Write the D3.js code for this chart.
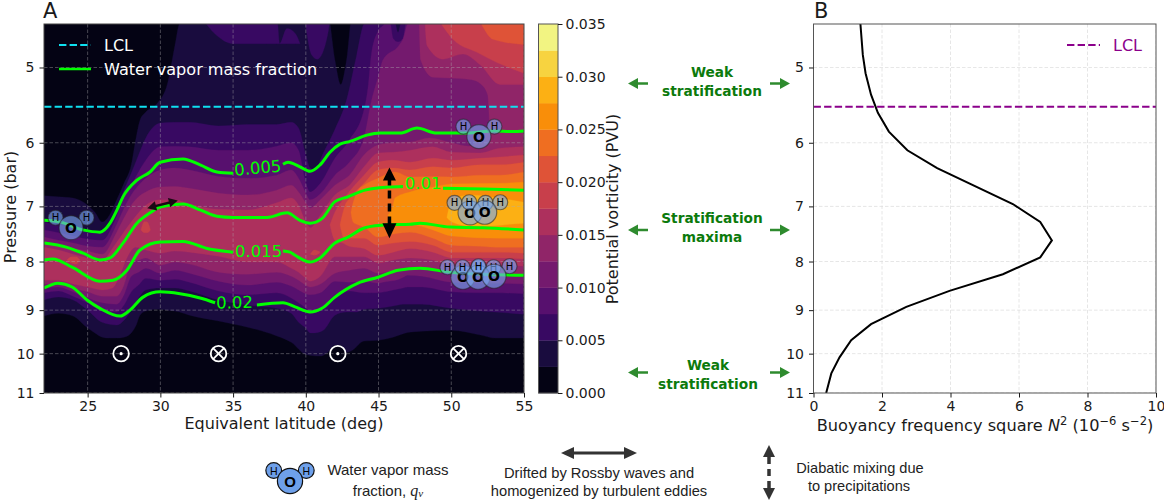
<!DOCTYPE html>
<html><head><meta charset="utf-8">
<script src="https://cdn.jsdelivr.net/npm/d3@7"></script>
<style>html,body{margin:0;padding:0;background:#fff}svg{display:block}text{font-family:"DejaVu Sans",sans-serif}</style>
</head><body><svg id="c" width="1164" height="503"></svg>
<script>
// ---- PV band boundaries: pressure (bar) of each contour level against latitude ----
const L1_lat=[22,23,24,25,25.5,26,26.5,27,27.5,28,28.3,28.6,29,29.8,30.5,31,31.3,32,34,36,38,39,40,41,41.5,42,42.4,42.8,43.2,44,45,46,47,48,50,52,53,55];
const L1_top=[6.82,6.84,6.86,6.98,7.10,7.27,7.15,6.89,6.62,6.33,5.96,5.68,5.57,5.45,5.19,4.74,4.50,4.4,4.4,4.4,4.4,4.4,4.4,4.4,4.4,4.91,5.21,4.91,4.4,4.4,4.4,4.4,4.4,4.4,4.4,4.4,4.4,4.4];
const L1_bot=[9.13,9.07,9.13,9.40,9.51,9.61,9.63,9.63,9.61,9.51,9.36,9.11,9.02,8.98,9.00,9.02,9.04,9.11,9.24,9.38,9.58,9.73,10.02,10.06,9.97,9.80,9.80,9.97,9.92,9.70,9.68,9.61,9.50,9.47,9.45,9.56,9.63,9.63];
const L2_lat=[22,23,24,25,26,27,27.5,28,28.5,29,30,31,32,34,36,38,39,39.5,40,40.3,40.6,41.2,42,42.8,43.5,44,45,46,46.34,46.68,48,50,52,53,55];
const L2_top=[7.27,7.32,7.37,7.43,7.45,7.03,6.73,6.46,6.18,5.93,5.72,5.71,5.71,5.76,5.74,5.74,5.71,5.79,6.18,6.38,6.41,6.15,5.81,5.41,4.85,4.50,4.4,4.4,4.59,4.4,4.4,4.4,4.4,4.4,4.4];
const L2_bot=[8.78,8.72,8.78,9.00,9.27,9.33,9.22,9.00,8.74,8.57,8.53,8.53,8.59,8.78,8.89,8.96,9.07,9.27,9.40,9.51,9.51,9.45,9.11,9.04,9.04,8.98,8.96,8.91,8.89,8.87,8.87,8.96,9.02,9.04,9.09];
const L2a_lat=[32.9,33.9,35,37.3,38,38.2,38.7,39.3,39.6];
const L2a_top=[4.4,4.4,4.4,4.4,4.4,4.72,4.55,4.61,4.72];
const L2a_bot=[4.45,4.63,4.72,4.72,4.72,4.72,4.72,4.72,4.72];
const L2b_lat=[39.9,40.4,40.8,41.5,41.7];
const L2b_top=[4.4,4.4,4.4,4.4,4.4];
const L2b_bot=[4.4,4.85,4.90,4.62,4.4];
const L3_lat=[22,23,24,25,26,27,27.5,28,28.5,29,30,31,32,34,36,38,39,39.5,40,40.3,41,42,43,44,44.3,44.5,45,45.4,45.7,46,46.34,46.68,47,48,50,52,53,55];
const L3_top=[7.41,7.46,7.52,7.58,7.60,7.17,6.86,6.65,6.44,6.26,6.06,6.05,6.06,6.11,6.11,6.05,6.00,6.11,6.62,6.76,6.62,6.23,5.96,5.54,5.21,4.85,4.57,4.50,4.4,4.66,4.70,4.66,4.4,4.4,4.4,4.4,4.4,4.4];
const L3_bot=[8.63,8.59,8.70,8.84,9.02,9.04,8.89,8.61,8.47,8.33,8.37,8.35,8.41,8.59,8.67,8.63,8.74,8.84,8.96,9.07,9.00,8.67,8.59,8.63,8.63,8.63,8.63,8.61,8.59,8.57,8.55,8.53,8.51,8.51,8.61,8.63,8.63,8.65];
const L4_lat=[22,23,24,25,26,27,27.5,28,28.5,29,30,31,32,34,36,38,39,39.5,40,40.3,41,42,43,44,44.5,45,45.3,46.4,46.7,47,48,50,52,53,55];
const L4_top=[7.54,7.60,7.65,7.71,7.73,7.31,7.03,6.81,6.65,6.54,6.41,6.38,6.41,6.51,6.54,6.49,6.41,6.54,6.78,6.89,6.79,6.49,6.29,5.93,5.43,5.10,4.91,4.74,4.66,4.50,4.4,4.4,4.4,4.4,4.4];
const L4_bot=[8.53,8.51,8.61,8.74,8.84,8.87,8.67,8.29,8.21,8.13,8.23,8.17,8.23,8.39,8.47,8.41,8.49,8.57,8.65,8.67,8.63,8.39,8.41,8.39,8.41,8.43,8.41,8.35,8.31,8.27,8.29,8.41,8.43,8.43,8.45];
const L5_lat=[22,23,24,25,26,27,27.5,28,28.5,29,30,31,32,34,36,38,39,39.5,40,40.3,41,42,43,44,45,46,47.2,48.5,50,51.2,52.4,53,55];
const L5_top=[7.62,7.69,7.75,7.80,7.86,7.45,7.20,6.98,6.84,6.76,6.68,6.67,6.70,6.78,6.81,6.73,6.65,6.76,6.94,7.03,6.89,6.65,6.49,6.18,6.03,6.00,5.99,5.93,6.00,6.05,5.82,5.68,5.68];
const L5_bot=[8.45,8.45,8.53,8.61,8.70,8.70,8.47,8.01,7.97,7.93,8.07,8.01,8.05,8.21,8.25,8.21,8.29,8.37,8.47,8.51,8.45,8.23,8.17,8.13,8.23,8.17,8.11,8.13,8.23,8.25,8.25,8.25,8.27];
const L5u_lat=[47.8,47.9,48.74,49.9,51.4,52,52.5,52.6,52.75,55];
const L5u_top=[4.4,4.4,4.4,4.4,4.4,4.4,4.4,4.4,4.4,4.4];
const L5u_bot=[4.51,4.91,5.12,5.13,5.15,5.20,5.34,5.61,6.89,6.89];
const L6_lat=[22,23,24,25,26,26.7,27.3,27.7,28.3,29,30,31,32,34,36,38,39,39.5,40,40.3,41,42,43,44,45,46,47.2,48.7,50,52,53.3,55];
const L6_top=[7.73,7.78,7.86,7.93,7.99,7.75,7.52,7.37,7.17,6.98,6.89,6.89,6.96,7.05,7.06,6.94,6.86,6.98,7.27,7.37,7.15,6.81,6.65,6.36,6.15,6.14,6.11,6.06,6.14,6.15,6.08,6.06];
const L6_bot=[8.37,8.37,8.45,8.51,8.57,8.53,8.21,7.93,7.73,7.78,7.84,7.80,7.82,7.90,8.01,8.01,8.13,8.21,8.33,8.39,8.29,7.91,7.91,7.91,8.03,7.97,7.93,7.97,8.07,8.07,8.07,8.09];
const L6u_lat=[48.2,48.33,49.43,50.8,52,53.35,55];
const L6u_top=[4.4,4.4,4.4,4.4,4.4,4.4,4.4];
const L6u_bot=[4.51,4.74,4.90,4.84,4.97,5.21,5.21];
const L7_lat=[41.66,42,42.55,42.97,44,44.96,46,47.16,48.74,50.05,52,53.35,55];
const L7_top=[7.32,7.10,6.89,6.76,6.49,6.29,6.26,6.29,6.23,6.26,6.23,6.21,6.18];
const L7_bot=[7.32,7.60,7.65,7.71,7.75,7.88,7.82,7.75,7.82,7.93,7.93,7.93,7.95];
const L7u_lat=[49.36,50.12,51.77,53.14,55];
const L7u_top=[4.4,4.4,4.4,4.4,4.4];
const L7u_bot=[4.51,4.67,4.82,4.94,5.07];
const L7s1_lat=[23.58,23.9,24.2,24.47];
const L7s1_top=[7.97,7.91,7.91,7.97];
const L7s1_bot=[7.97,8.03,8.05,7.97];
const L7s2_lat=[28.67,28.9,29.1,29.32];
const L7s2_top=[7.41,7.26,7.27,7.41];
const L7s2_bot=[7.41,7.46,7.46,7.41];
const L7s3_lat=[40.3,40.6,41];
const L7s3_top=[7.86,7.78,7.82];
const L7s3_bot=[7.86,7.88,7.82];
const L8_lat=[42.35,42.7,43.04,44,44.96,46,47.16,48.74,50.05,52,53.35,55];
const L8_top=[7.32,6.98,6.86,6.62,6.41,6.38,6.41,6.36,6.38,6.33,6.33,6.29];
const L8_bot=[7.32,7.60,7.56,7.56,7.69,7.65,7.62,7.69,7.82,7.82,7.82,7.84];
const L8u_lat=[52.1,52.87,55];
const L8u_top=[4.4,4.4,4.4];
const L8u_bot=[4.51,4.67,4.73];
const L9_lat=[43.1,43.25,43.59,44,44.96,46.13,47.16,48.74,50.05,52,53.35,55];
const L9_top=[7.10,6.94,6.73,6.65,6.54,6.44,6.52,6.51,6.52,6.49,6.49,6.44];
const L9_bot=[7.10,7.27,7.32,7.36,7.54,7.48,7.45,7.56,7.69,7.71,7.73,7.73];
const L10_lat=[45.65,46,46.13,47.16,48.74,50.05,53.35,55];
const L10_top=[7.15,6.98,6.86,6.76,6.68,6.63,6.62,6.60];
const L10_bot=[7.15,7.32,7.34,7.31,7.41,7.52,7.56,7.56];
const L11_lat=[49.7,50.05,51.3,52.66,54.03,55];
const L11_top=[7.19,6.89,6.81,6.84,6.89,6.93];
const L11_bot=[7.19,7.27,7.34,7.34,7.31,7.29];
// painter's order: [band index, lat, top, bottom]
const bandPatches=[[1,L1_lat,L1_top,L1_bot],[2,L2_lat,L2_top,L2_bot],[2,L2a_lat,L2a_top,L2a_bot],[2,L2b_lat,L2b_top,L2b_bot],
 [3,L3_lat,L3_top,L3_bot],[4,L4_lat,L4_top,L4_bot],[5,L5_lat,L5_top,L5_bot],[5,L5u_lat,L5u_top,L5u_bot],
 [6,L6_lat,L6_top,L6_bot],[6,L6u_lat,L6u_top,L6u_bot],[7,L7_lat,L7_top,L7_bot],[7,L7u_lat,L7u_top,L7u_bot],
 [7,L7s1_lat,L7s1_top,L7s1_bot],[7,L7s2_lat,L7s2_top,L7s2_bot],[7,L7s3_lat,L7s3_top,L7s3_bot],
 [8,L8_lat,L8_top,L8_bot],[8,L8u_lat,L8u_top,L8u_bot],[9,L9_lat,L9_top,L9_bot],[10,L10_lat,L10_top,L10_bot],[11,L11_lat,L11_top,L11_bot]];
const pvLevels=d3.range(0,15).map(i=>i*0.0025);
const pvTicks=[0,0.005,0.01,0.015,0.02,0.025,0.03,0.035];
// ---- water vapour contours (null = gap for inline label) ----
const q005_lat=[22,23.1,24.68,25.85,26.54,27.02,27.43,28.39,29.29,29.98,31.56,32.73,33.89,35,null,38.43,38.78,39.6,40.29,40.98,41.66,42.35,43.04,44.2,45.1,46.48,47.64,49,51.08,52.87,54.24,55];
const q005_p=[7.24,7.27,7.41,7.45,7.29,7.06,6.84,6.57,6.44,6.29,6.24,6.33,6.44,6.46,null,6.32,6.29,6.36,6.43,6.33,6.14,6.02,5.98,5.89,5.86,5.86,5.79,5.86,5.86,5.83,5.84,5.83];
const q010_lat=[22,23.58,24.68,25.85,26.54,27.43,28.39,29.29,29.98,31.56,32.73,33.89,35,37.33,38.71,39.6,40.29,41.11,42,42.9,44.07,45.65,46.68,null,49.43,52.18,55];
const q010_p=[7.65,7.73,7.84,7.97,7.93,7.65,7.29,7.11,7.01,6.96,7.06,7.17,7.19,7.19,7.11,7.24,7.29,7.21,6.92,6.84,6.73,6.68,6.67,null,6.70,6.71,6.73];
const q015_lat=[22,22.6,23.93,25.85,26.74,27.7,28.6,29.98,31.56,33.2,35,null,38.43,38.91,39.26,40.29,40.98,42,42.9,44.07,45.65,47.16,47.85,49.91,52.18,55];
const q015_p=[7.97,7.95,8.11,8.39,8.37,8.17,7.78,7.63,7.62,7.75,7.82,null,7.80,7.82,7.88,8.01,7.93,7.65,7.54,7.37,7.32,7.31,7.29,7.36,7.37,7.41];
const q020_lat=[22,22.96,23.93,24.96,25.85,27.23,27.91,28.81,29.98,31.35,32.73,33.76,null,36.64,38.43,39.26,40.29,41.11,42,43.59,44.96,46.34,47.85,49.91,52.18,55];
const q020_p=[8.53,8.43,8.51,8.78,8.96,9.13,9.00,8.72,8.61,8.65,8.74,8.84,null,8.89,8.84,8.93,9.04,8.96,8.72,8.43,8.31,8.17,8.13,8.21,8.25,8.27];
const qLabels=["0.005","0.01","0.015","0.02"];
const qLabelLat=[36.7,48.06,36.76,35.1];
const qLabelP=[6.38,6.62,7.80,8.84];
const qLabelAngle=[-5,0,0,-1];
// ---- molecules, wind symbols, LCL ----
const molLat=[23.86,51.9,51.29,52.3,50.8,51.84,52.94];
const molP=[7.37,5.91,7.11,7.10,8.31,8.31,8.29];
const windLat=[27.3,34,42.2,50.5];
const windKind=["out","in","out","in"];
const windP=10;
const lclP=5.5;
// ---- buoyancy profile ----
const n2Values=[1.37,1.44,1.52,1.68,1.88,2.2,2.74,3.61,5.82,6.62,6.96,6.62,5.53,3.97,2.71,1.68,1.10,0.76,0.52,0.37];
const n2Pressure=[4.5,4.85,5.07,5.34,5.58,5.84,6.11,6.38,6.96,7.27,7.60,7.92,8.25,8.59,8.93,9.31,9.68,10.09,10.49,11];
const pTicks=[5,6,7,8,9,10,11];
const latTicks=[25,30,35,40,45,50,55];
const n2Ticks=[0,2,4,6,8,10];

const svg=d3.select("#c");
const T=24,B=393,AL=44,AR=524,BL=813.5,BR=1156;
const y=d3.scaleLog().domain([4.5,11]).range([T,B]);
const xA=d3.scaleLinear().domain([22,55]).range([AL,AR]);
const xB=d3.scaleLinear().domain([0,10]).range([BL,BR]);
const pvColor=i=>d3.interpolateInferno((i+0.5)/14);
const INK="#1a1a1a";

svg.append("defs").append("clipPath").attr("id","clipA").append("rect").attr("x",AL).attr("y",T).attr("width",AR-AL).attr("height",B-T);
svg.select("defs").append("clipPath").attr("id","clipB").append("rect").attr("x",BL).attr("y",T).attr("width",BR-BL).attr("height",B-T);

// Panel A ---------------------------------------------------
const gA=svg.append("g").attr("clip-path","url(#clipA)");
gA.append("rect").attr("x",AL).attr("y",T).attr("width",AR-AL).attr("height",B-T).attr("fill",pvColor(0));
const area=d3.area().curve(d3.curveMonotoneX);
bandPatches.forEach(([lev,lat,top,bot])=>{
  area.x((d,i)=>xA(lat[i])).y0((d,i)=>y(top[i])).y1((d,i)=>y(bot[i]));
  gA.append("path").attr("d",area(lat)).attr("fill",pvColor(lev)).attr("stroke",pvColor(lev)).attr("stroke-width",0.3);
});
// grid
const gridA=gA.append("g").attr("stroke","#b0b0b0").attr("stroke-opacity",0.4).attr("stroke-dasharray","3.5,2").attr("stroke-width",1);
latTicks.forEach(t=>gridA.append("line").attr("x1",xA(t)).attr("x2",xA(t)).attr("y1",T).attr("y2",B));
pTicks.forEach(t=>gridA.append("line").attr("x1",AL).attr("x2",AR).attr("y1",y(t)).attr("y2",y(t)));
// LCL
gA.append("line").attr("x1",AL).attr("x2",AR).attr("y1",y(lclP)).attr("y2",y(lclP)).attr("stroke","#0fe0f0").attr("stroke-width",2).attr("stroke-dasharray","7.4,3.2");
// q contours
const qLine=d3.line().defined(d=>d[0]!==null).x(d=>xA(d[0])).y(d=>y(d[1])).curve(d3.curveMonotoneX);
[[q005_lat,q005_p],[q010_lat,q010_p],[q015_lat,q015_p],[q020_lat,q020_p]].forEach(([la,pp])=>{
  gA.append("path").attr("d",qLine(la.map((v,i)=>[v,pp[i]]))).attr("fill","none").attr("stroke","#00ff00").attr("stroke-width",3);
});
qLabels.forEach((s,i)=>{
  gA.append("text").attr("transform",`translate(${xA(qLabelLat[i])},${y(qLabelP[i])}) rotate(${qLabelAngle[i]})`)
   .attr("text-anchor","middle").attr("dominant-baseline","central").attr("fill","#00ff00").attr("font-size",16.5).text(s);
});
// small black arrows
function head(g,xx,yy,ang,len,w,fill){
  g.append("path").attr("d",`M${len},0L0,${-w/2}L0,${w/2}Z`).attr("transform",`translate(${xx},${yy}) rotate(${ang})`).attr("fill",fill);
}
const a1=[xA(29.1),y(7.03),xA(31.2),y(6.9)];
const ang1=Math.atan2(a1[3]-a1[1],a1[2]-a1[0])*180/Math.PI;
gA.append("line").attr("x1",a1[0]+4).attr("y1",a1[1]-1).attr("x2",a1[2]-4).attr("y2",a1[3]+1).attr("stroke","#1a0a14").attr("stroke-width",2.4);
const gH=gA.append("g");
head(gH,a1[2]-Math.cos(ang1*Math.PI/180)*9,a1[3]-Math.sin(ang1*Math.PI/180)*9,ang1,9,9.5,"#1a0a14");
head(gH,a1[0]+Math.cos(ang1*Math.PI/180)*9,a1[1]+Math.sin(ang1*Math.PI/180)*9,ang1+180,9,9.5,"#1a0a14");
const dLat=45.75,dTop=y(6.37),dBot=y(7.56);
gA.append("line").attr("x1",xA(dLat)).attr("x2",xA(dLat)).attr("y1",dTop+10).attr("y2",dBot-10).attr("stroke","#000").attr("stroke-width",3.5).attr("stroke-dasharray","8,5");
head(gA,xA(dLat),dTop+13,-90,13,13,"#000");
head(gA,xA(dLat),dBot-15,90,15,14,"#000");
// wind symbols
windLat.forEach((la,i)=>{
  const cx=xA(la),cy=y(windP);
  gA.append("circle").attr("cx",cx).attr("cy",cy).attr("r",7.8).attr("fill","none").attr("stroke","#fff").attr("stroke-width",1.8);
  if(windKind[i]==="out") gA.append("circle").attr("cx",cx).attr("cy",cy).attr("r",1.6).attr("fill","#fff");
  else {const r=5.5;[[-1,-1,1,1],[-1,1,1,-1]].forEach(c=>gA.append("line").attr("x1",cx+c[0]*r).attr("y1",cy+c[1]*r).attr("x2",cx+c[2]*r).attr("y2",cy+c[3]*r).attr("stroke","#fff").attr("stroke-width",1.8));}
});
// molecules
function molecule(g,cx,cy,s,fill,fo,stroke,so,font){
  [[-15.5*s,-10*s],[15.5*s,-10*s]].forEach(o=>{
    g.append("circle").attr("cx",cx+o[0]).attr("cy",cy+o[1]).attr("r",7.5*s).attr("fill",fill).attr("fill-opacity",fo).attr("stroke",stroke).attr("stroke-opacity",so).attr("stroke-width",1.2);
    g.append("text").attr("x",cx+o[0]).attr("y",cy+o[1]).attr("text-anchor","middle").attr("dominant-baseline","central").attr("font-size",10*s).attr("fill","#000").attr("font-weight","500").text("H");
  });
  g.append("circle").attr("cx",cx).attr("cy",cy).attr("r",12*s).attr("fill",fill).attr("fill-opacity",fo).attr("stroke",stroke).attr("stroke-opacity",so).attr("stroke-width",1.2);
  g.append("text").attr("x",cx).attr("y",cy).attr("text-anchor","middle").attr("dominant-baseline","central").attr("font-size",font).attr("font-weight","bold").attr("fill","#000").text("O");
}
molLat.forEach((la,i)=>molecule(gA,xA(la),y(molP[i]),1,"#77a8f0",0.62,"#222",0.55,14));
// legend A
const legA=svg.append("g");
legA.append("line").attr("x1",59).attr("x2",91).attr("y1",45).attr("y2",45).attr("stroke","#0fe0f0").attr("stroke-width",2).attr("stroke-dasharray","7.4,3.2");
legA.append("line").attr("x1",59).attr("x2",91).attr("y1",69).attr("y2",69).attr("stroke","#00ff00").attr("stroke-width",2.5);
legA.append("text").attr("x",104).attr("y",45).attr("dominant-baseline","central").attr("fill","#fff").attr("font-size",16).text("LCL");
legA.append("text").attr("x",104).attr("y",69).attr("dominant-baseline","central").attr("fill","#fff").attr("font-size",16.1).text("Water vapor mass fraction");

function frame(l,r,stroke){svg.append("rect").attr("x",l).attr("y",T).attr("width",r-l).attr("height",B-T).attr("fill","none").attr("stroke",stroke).attr("stroke-width",1);}
function styleAxis(g){g.select(".domain").remove();g.selectAll("text").attr("font-size",14).attr("fill",INK);g.selectAll("line").attr("stroke",INK);}
frame(AL,AR,"#444");
svg.append("g").attr("transform",`translate(${AL},0)`).call(d3.axisLeft(y).tickValues(pTicks).tickFormat(d3.format("d")).tickSize(4.5).tickPadding(5)).call(styleAxis);
svg.append("g").attr("transform",`translate(0,${B})`).call(d3.axisBottom(xA).tickValues(latTicks).tickFormat(d3.format("d")).tickSize(4.5).tickPadding(4)).call(styleAxis);
svg.append("text").attr("x",43).attr("y",18).attr("font-size",21).attr("fill",INK).text("A");
svg.append("text").attr("x",814).attr("y",18).attr("font-size",21).attr("fill",INK).text("B");
svg.append("text").attr("transform","translate(16,207) rotate(-90)").attr("text-anchor","middle").attr("font-size",16).attr("fill",INK).text("Pressure (bar)");
svg.append("text").attr("x",284).attr("y",429).attr("text-anchor","middle").attr("font-size",16).attr("fill",INK).text("Equivalent latitude (deg)");

// Colorbar --------------------------------------------------
const cbL=538.5,cbR=558;
const cbY=d3.scaleLinear().domain([0,0.035]).range([B,T]);
d3.range(14).forEach(i=>svg.append("rect").attr("x",cbL).attr("width",cbR-cbL).attr("y",cbY(pvLevels[i+1])).attr("height",cbY(pvLevels[i])-cbY(pvLevels[i+1])+0.3).attr("fill",pvColor(i)));
frame(cbL,cbR,"#555");
svg.append("g").attr("transform",`translate(${cbR},0)`).call(d3.axisRight(cbY).tickValues(pvTicks).tickFormat(d3.format(".3f")).tickSize(4.5).tickPadding(3)).call(styleAxis);
svg.append("text").attr("transform","translate(618,209) rotate(-90)").attr("text-anchor","middle").attr("font-size",16).attr("fill",INK).text("Potential vorticity (PVU)");

// Panel B ---------------------------------------------------
const gB=svg.append("g").attr("clip-path","url(#clipB)");
const gridB=gB.append("g").attr("stroke","#dcdcdc").attr("stroke-opacity",0.7).attr("stroke-dasharray","3.5,2").attr("stroke-width",1);
n2Ticks.forEach(t=>gridB.append("line").attr("x1",xB(t)).attr("x2",xB(t)).attr("y1",T).attr("y2",B));
pTicks.forEach(t=>gridB.append("line").attr("x1",BL).attr("x2",BR).attr("y1",y(t)).attr("y2",y(t)));
gB.append("line").attr("x1",BL).attr("x2",BR).attr("y1",y(lclP)).attr("y2",y(lclP)).attr("stroke","#8b008b").attr("stroke-width",2).attr("stroke-dasharray","7.4,3.2");
gB.append("path").attr("d",d3.line().x((d,i)=>xB(d)).y((d,i)=>y(n2Pressure[i]))(n2Values)).attr("fill","none").attr("stroke","#000").attr("stroke-width",2);
frame(BL,BR,"#555");
svg.append("g").attr("transform",`translate(${BL},0)`).call(d3.axisLeft(y).tickValues(pTicks).tickFormat(d3.format("d")).tickSize(4.5).tickPadding(5)).call(styleAxis);
svg.append("g").attr("transform",`translate(0,${B})`).call(d3.axisBottom(xB).tickValues(n2Ticks).tickFormat(d3.format("d")).tickSize(4.5).tickPadding(4)).call(styleAxis);
svg.append("line").attr("x1",1067).attr("x2",1100).attr("y1",45).attr("y2",45).attr("stroke","#8b008b").attr("stroke-width",2).attr("stroke-dasharray","7.4,3.2");
svg.append("text").attr("x",1113).attr("y",45).attr("dominant-baseline","central").attr("font-size",16).attr("fill","#8b008b").text("LCL");
const bl=svg.append("text").attr("x",985).attr("y",431).attr("text-anchor","middle").attr("font-size",16.2).attr("fill",INK);
bl.append("tspan").text("Buoyancy frequency square ");
bl.append("tspan").attr("font-style","italic").text("N");
bl.append("tspan").attr("dy",-6).attr("font-size",11.5).text("2");
bl.append("tspan").attr("dy",6).text(" (10");
bl.append("tspan").attr("dy",-6).attr("font-size",11.5).text("\u22126");
bl.append("tspan").attr("dy",6).text(" s");
bl.append("tspan").attr("dy",-6).attr("font-size",11.5).text("\u22122");
bl.append("tspan").attr("dy",6).text(")");

// Green stratification annotations --------------------------
const GREEN="#2e8b2e",GTXT="#0c7a0c";
[[83.5,712,72,91,["Weak","stratification"]],[230,712,218,237,["Stratification","maxima"]],[372.5,708,365,384,["Weak","stratification"]]].forEach(([ay,tx,y1,y2,lines])=>{
  svg.append("line").attr("x1",636).attr("x2",648).attr("y1",ay).attr("y2",ay).attr("stroke",GREEN).attr("stroke-width",2.5);
  head(svg,638,ay,180,10,11,GREEN);
  svg.append("line").attr("x1",770).attr("x2",782).attr("y1",ay).attr("y2",ay).attr("stroke",GREEN).attr("stroke-width",2.5);
  head(svg,780,ay,0,10,11,GREEN);
  [y1,y2].forEach((yy,i)=>svg.append("text").attr("x",tx).attr("y",yy).attr("text-anchor","middle").attr("dominant-baseline","central").attr("font-size",13.7).attr("font-weight","bold").attr("fill",GTXT).text(lines[i]));
});

// Bottom legend ---------------------------------------------
const lg=svg.append("g").style("font-family","'Liberation Sans',Arial,sans-serif");
function lt(x,yy,s,size){return lg.append("text").attr("x",x).attr("y",yy).attr("text-anchor","middle").attr("dominant-baseline","central").attr("font-size",size||14.7).attr("fill","#222").style("font-family","'Liberation Sans',Arial,sans-serif").text(s);}
molecule(lg,290,481,1.05,"#6ea0ea",1,"#111",1,15);
lg.selectAll("text").style("font-family","'Liberation Sans',Arial,sans-serif");
lt(388,469,"Water vapor mass",15);
const q=lt(388,490,"fraction, ",15);
q.append("tspan").style("font-family","'Liberation Serif',serif").attr("font-style","italic").attr("font-size",16).text("q");
q.append("tspan").attr("dy",3).style("font-family","'Liberation Serif',serif").attr("font-style","italic").attr("font-size",11).text("v");
lt(599,473,"Drifted by Rossby waves and");
lt(599,491,"homogenized by turbulent eddies");
lt(860,468,"Diabatic mixing due",14.6);
lt(859,486,"to precipitations",14.6);
lg.append("line").attr("x1",570).attr("x2",628).attr("y1",453).attr("y2",453).attr("stroke","#333").attr("stroke-width",3);
head(lg,624,453,0,13,12,"#333");
head(lg,574,453,180,13,12,"#333");
lg.append("line").attr("x1",769).attr("x2",769).attr("y1",457).attr("y2",488).attr("stroke","#333").attr("stroke-width",3.5).attr("stroke-dasharray","7,5");
head(lg,769,457,-90,12,12,"#333");
head(lg,769,488,90,12,12,"#333");
</script></body></html>
